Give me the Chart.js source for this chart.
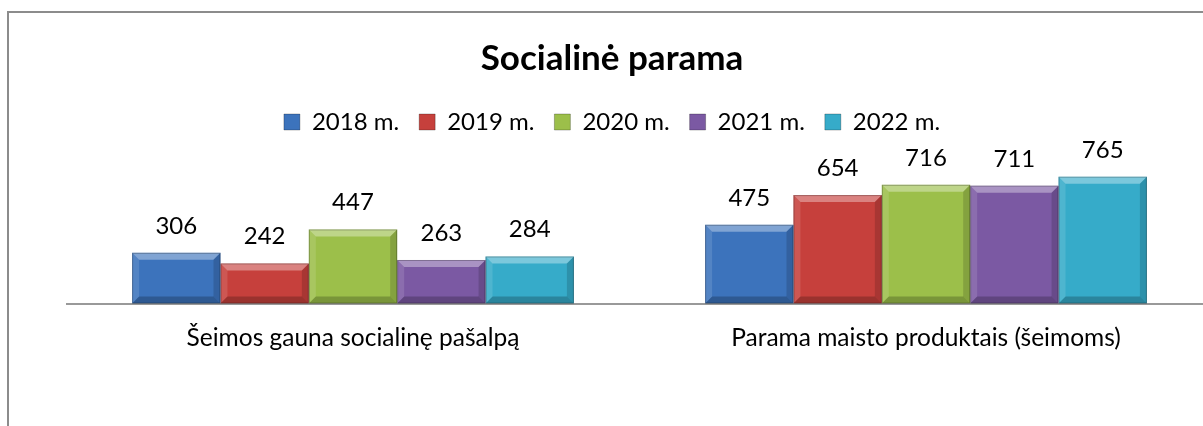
<!DOCTYPE html>
<html>
<head>
<meta charset="utf-8">
<script src="https://cdn.jsdelivr.net/npm/chart.js@4"></script>
<style>
    html, body { margin: 0; padding: 0; background: #fff; overflow: hidden; }
    #frame { position: absolute; left: 7px; top: 11px; width: 1230px; height: 440px; border: 2px solid #8c8c8c; }
    #wrap { position: absolute; left: 0; top: 0; width: 1230px; height: 426px; }
</style>
</head>
<body>
<div id="frame"></div>
<div id="wrap"><canvas id="paramaChart"></canvas></div>
<script>
// duomenys
const categories = ['Šeimos gauna socialinę pašalpą', 'Parama maisto produktais (šeimoms)'];
const years = ['2018 m.', '2019 m.', '2020 m.', '2021 m.', '2022 m.'];
const v2018 = [306, 475];
const v2019 = [242, 654];
const v2020 = [447, 716];
const v2021 = [263, 711];
const v2022 = [284, 765];
const colors = ['#3c73bc', '#c6403c', '#9cbf4a', '#7b59a3', '#36abc9'];

const FONT = 'Lato, "Liberation Sans", sans-serif';

// bevel efektas ant stulpeliu
const bevelPlugin = {
    id: 'bevel',
    afterDatasetsDraw(chart) {
        const ctx = chart.ctx;
        chart.data.datasets.forEach((ds, i) => {
            chart.getDatasetMeta(i).data.forEach(bar => {
                const l = bar.x - bar.width / 2, r = bar.x + bar.width / 2;
                const t = bar.y, b = bar.base;
                const bv = Math.min(7, (b - t) / 3);
                ctx.save();
                // virsus
                ctx.fillStyle = 'rgba(255,255,255,0.35)';
                ctx.beginPath();
                ctx.moveTo(l, t); ctx.lineTo(r, t); ctx.lineTo(r - bv, t + bv); ctx.lineTo(l + bv, t + bv);
                ctx.closePath(); ctx.fill();
                // kaire
                ctx.fillStyle = 'rgba(255,255,255,0.12)';
                ctx.beginPath();
                ctx.moveTo(l, t); ctx.lineTo(l + bv, t + bv); ctx.lineTo(l + bv, b - bv); ctx.lineTo(l, b);
                ctx.closePath(); ctx.fill();
                // desine
                ctx.fillStyle = 'rgba(0,0,0,0.15)';
                ctx.beginPath();
                ctx.moveTo(r, t); ctx.lineTo(r - bv, t + bv); ctx.lineTo(r - bv, b - bv); ctx.lineTo(r, b);
                ctx.closePath(); ctx.fill();
                // apacia
                ctx.fillStyle = 'rgba(0,0,0,0.22)';
                ctx.beginPath();
                ctx.moveTo(l, b); ctx.lineTo(l + bv, b - bv); ctx.lineTo(r - bv, b - bv); ctx.lineTo(r, b);
                ctx.closePath(); ctx.fill();
                ctx.strokeStyle = 'rgba(0,0,0,0.25)';
                ctx.lineWidth = 1;
                ctx.strokeRect(l + 0.5, t + 0.5, r - l - 1, b - t - 1);
                ctx.restore();
            });
        });
    }
};

// reiksmes virs stulpeliu
const valueLabels = {
    id: 'valueLabels',
    afterDatasetsDraw(chart) {
        const ctx = chart.ctx;
        ctx.save();
        ctx.font = '24px ' + FONT;
        ctx.fillStyle = '#000';
        ctx.textAlign = 'center';
        ctx.textBaseline = 'alphabetic';
        chart.data.datasets.forEach((ds, i) => {
            chart.getDatasetMeta(i).data.forEach((bar, j) => {
                ctx.fillText(ds.data[j], bar.x, bar.y - 19);
            });
        });
        ctx.restore();
    }
};

const seriesValues = [v2018, v2019, v2020, v2021, v2022];

new Chart(document.getElementById('paramaChart').getContext('2d'), {
    type: 'bar',
    data: {
        labels: categories,
        datasets: years.map((y, i) => ({
            label: y,
            data: seriesValues[i],
            backgroundColor: colors[i],
            borderWidth: 0,
            categoryPercentage: 0.771,
            barPercentage: 1
        }))
    },
    options: {
        responsive: true,
        maintainAspectRatio: false,
        animation: false,
        layout: { padding: { left: 11.5, right: 17.5, top: 0, bottom: 53 } },
        plugins: {
            title: {
                display: true,
                text: 'Socialinė parama',
                color: '#000',
                font: { family: FONT, size: 35, weight: 'bold' },
                padding: { top: 38, bottom: 10 }
            },
            legend: {
                display: true,
                labels: {
                    color: '#000',
                    font: { family: FONT, size: 24 },
                    boxWidth: 16,
                    boxHeight: 16,
                    padding: 20,
                    generateLabels: chart => chart.data.datasets.map((ds, i) => ({
                        text: ds.label,
                        fillStyle: colors[i],
                        strokeStyle: 'rgba(0,0,0,0.25)',
                        lineWidth: 1,
                        datasetIndex: i
                    }))
                }
            },
            tooltip: { enabled: false }
        },
        scales: {
            x: {
                grid: { display: false, drawTicks: false },
                border: { display: true, color: '#999', width: 2 },
                ticks: { color: '#000', font: { family: FONT, size: 24.5 }, padding: 20 }
            },
            y: {
                display: true,
                min: 0,
                max: 962,
                grid: { display: false, drawTicks: false },
                border: { display: false },
                ticks: { display: false },
                afterFit: scale => { scale.width = 55; }
            }
        }
    },
    plugins: [bevelPlugin, valueLabels]
});
</script>
</body>
</html>
